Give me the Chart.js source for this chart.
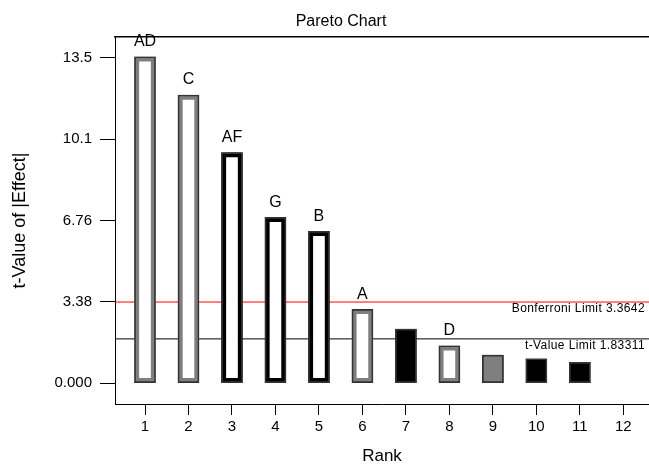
<!DOCTYPE html>
<html>
<head>
<meta charset="utf-8">
<title>Pareto Chart</title>
<script src="https://cdn.jsdelivr.net/npm/chart.js@4.4.1/dist/chart.umd.min.js"></script>
<style>
    html, body { margin: 0; padding: 0; background: #fff; }
    #wrap { width: 649px; height: 465px; position: relative; }
</style>
</head>
<body>
<div id="wrap"><canvas id="pareto"></canvas></div>
<script>
// Effects sorted by rank
const ranks = [1, 2, 3, 4, 5, 6, 7, 8, 9, 10, 11];
const tValues = [13.55, 11.96, 9.57, 6.88, 6.30, 3.06, 2.24, 1.55, 1.16, 1.01, 0.86];
const effectNames = ['AD', 'C', 'AF', 'G', 'B', 'A', '', 'D', '', '', ''];
// sign of the effect (+ drawn gray, - drawn black)
const effectSigns = ['+', '+', '-', '-', '-', '+', '-', '+', '+', '-', '-'];
// terms chosen for the model are drawn as outlined bars
const inModel = [true, true, true, true, true, true, false, true, false, false, false];

// Axis ticks
const xTicks = [1, 2, 3, 4, 5, 6, 7, 8, 9, 10, 11, 12];
const yTicks = [0, 3.375, 6.75, 10.125, 13.5];
const yTickLabels = ['0.000', '3.38', '6.76', '10.1', '13.5'];

// Limits
const bonferroniLimit = 3.3642;
const tValueLimit = 1.83311;

const X_MIN = 0.31, X_MAX = 12.59;
const Y_MIN = -0.87, Y_MAX = 14.37;
const GRAY = '#7f7f7f';
const FONT = "'Liberation Sans', Arial, sans-serif";

function signColor(i) {
    return effectSigns[i] === '+' ? GRAY : '#000';
}

const barData = ranks.map((r, i) => ({ x: r, y: tValues[i] }));

// Text drawn on top: title, effect names, limit captions
const textPlugin = {
    id: 'paretoText',
    afterDatasetsDraw(chart) {
        const ctx = chart.ctx;
        const area = chart.chartArea;
        const yScale = chart.scales.y;
        ctx.save();
        ctx.fillStyle = '#000';

        // effect names above the bars
        ctx.font = '16px ' + FONT;
        ctx.textAlign = 'center';
        ctx.textBaseline = 'middle';
        chart.getDatasetMeta(0).data.forEach((bar, i) => {
            if (effectNames[i]) {
                ctx.fillText(effectNames[i], bar.x, bar.y - 15);
            }
        });

        // limit captions
        ctx.font = '12px ' + FONT;
        ctx.letterSpacing = '0.4px';
        ctx.textAlign = 'right';
        ctx.fillText('Bonferroni Limit ' + bonferroniLimit, area.right - 4, yScale.getPixelForValue(bonferroniLimit) + 7);
        ctx.fillText('t-Value Limit ' + tValueLimit, area.right - 4, yScale.getPixelForValue(tValueLimit) + 7);
        ctx.letterSpacing = '0px';

        // title
        ctx.font = '16px ' + FONT;
        ctx.textAlign = 'center';
        ctx.fillText('Pareto Chart', 341, 22);
        ctx.restore();
    }
};

const ctx = document.getElementById('pareto').getContext('2d');
const paretoChart = new Chart(ctx, {
    type: 'bar',
    data: {
        datasets: [
            {
                type: 'bar',
                data: barData,
                barThickness: 21,
                grouped: false,
                borderSkipped: false,
                backgroundColor: c => inModel[c.dataIndex] ? '#fff' : signColor(c.dataIndex),
                borderColor: c => inModel[c.dataIndex] ? signColor(c.dataIndex) : '#000',
                borderWidth: c => inModel[c.dataIndex] ? 5 : 1,
                order: 1
            },
            {
                // thin dark edge round every bar
                type: 'bar',
                data: barData,
                barThickness: 21,
                grouped: false,
                borderSkipped: false,
                backgroundColor: 'rgba(0,0,0,0)',
                borderColor: '#333',
                borderWidth: 1,
                order: 0
            },
            {
                type: 'line',
                data: [{ x: X_MIN, y: bonferroniLimit }, { x: X_MAX, y: bonferroniLimit }],
                borderColor: '#ff0000',
                borderWidth: 1,
                pointRadius: 0,
                order: 2
            },
            {
                type: 'line',
                data: [{ x: X_MIN, y: tValueLimit }, { x: X_MAX, y: tValueLimit }],
                borderColor: '#000',
                borderWidth: 1,
                pointRadius: 0,
                order: 3
            }
        ]
    },
    options: {
        responsive: true,
        maintainAspectRatio: false,
        animation: false,
        layout: { padding: { top: 37, right: 0, bottom: 0, left: 0 } },
        plugins: {
            legend: { display: false },
            tooltip: { enabled: false },
            title: { display: false }
        },
        scales: {
            x: {
                type: 'linear',
                position: 'bottom',
                min: X_MIN,
                max: X_MAX,
                offset: false,
                afterBuildTicks: s => { s.ticks = xTicks.map(v => ({ value: v })); },
                afterFit: s => { s.height = 61; },
                grid: { display: true, drawOnChartArea: false, offset: false, tickLength: 11, color: '#000' },
                border: { display: true, color: '#000', width: 1 },
                ticks: { color: '#000', padding: 3, font: { size: 15, family: FONT }, maxRotation: 0, autoSkip: false },
                title: { display: true, text: 'Rank', color: '#000', font: { size: 17, family: FONT }, padding: { top: 0, bottom: -2 } }
            },
            x2: {
                type: 'linear',
                position: 'top',
                min: X_MIN,
                max: X_MAX,
                afterFit: s => { s.height = 0; },
                grid: { display: true, drawOnChartArea: false, drawTicks: false },
                border: { display: true, color: '#000', width: 1.5 },
                ticks: { display: false }
            },
            y: {
                type: 'linear',
                min: Y_MIN,
                max: Y_MAX,
                afterBuildTicks: s => { s.ticks = yTicks.map(v => ({ value: v })); },
                afterFit: s => { s.width = 115; },
                grid: { display: true, drawOnChartArea: false, tickLength: 15, color: '#000' },
                border: { display: true, color: '#000', width: 1 },
                ticks: {
                    color: '#000',
                    padding: 8,
                    font: { size: 15, family: FONT },
                    callback: (v, i) => yTickLabels[i]
                },
                title: { display: true, text: 't-Value of |Effect|', color: '#000', font: { size: 18, family: FONT }, padding: { top: 9, bottom: 0 } }
            }
        }
    },
    plugins: [textPlugin]
});
</script>
</body>
</html>
